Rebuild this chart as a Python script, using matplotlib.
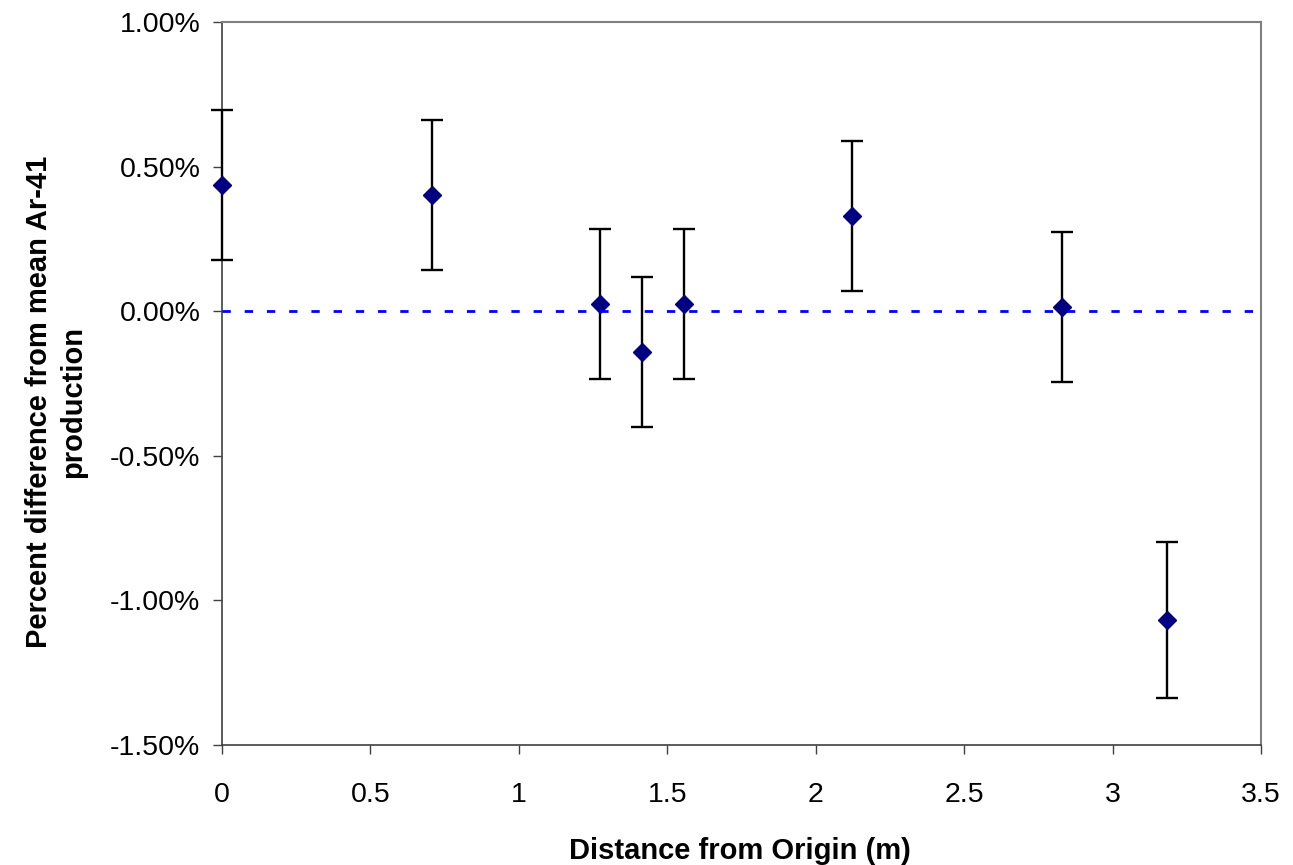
import matplotlib
matplotlib.use("Agg")
import matplotlib.pyplot as plt
from matplotlib.ticker import FuncFormatter, MultipleLocator

distance_m = [0.0, 0.707, 1.273, 1.414, 1.556, 2.121, 2.828, 3.182]
pct_diff = [0.436, 0.402, 0.025, -0.141, 0.025, 0.329, 0.015, -1.068]
pct_err = [0.26, 0.26, 0.26, 0.26, 0.26, 0.26, 0.26, 0.27]

plt.rcParams['font.family'] = ['Liberation Sans', 'DejaVu Sans']

W, H = 1293, 865
fig = plt.figure(figsize=(W / 100, H / 100), dpi=100)
ax = fig.add_axes([222 / W, 1 - 745 / H, (1261 - 222) / W, (745 - 22) / H])

ax.errorbar(distance_m, pct_diff, yerr=pct_err, fmt='D', color='#000080',
            markersize=9.5, ecolor='black', elinewidth=1.7, capsize=8,
            capthick=1.7, zorder=3, clip_on=False)
ax.axhline(0, color='#0000FF', lw=2, dashes=(3, 5), zorder=4)

ax.set_xlim(0, 3.5)
ax.set_ylim(-1.5, 1.0)
ax.xaxis.set_major_locator(MultipleLocator(0.5))
ax.yaxis.set_major_locator(MultipleLocator(0.5))
ax.xaxis.set_major_formatter(FuncFormatter(lambda v, p: f"{v:g}"))
ax.yaxis.set_major_formatter(FuncFormatter(lambda v, p: f"{v:.2f}%"))

for s in ['top', 'right']:
    ax.spines[s].set_color('#808080')
    ax.spines[s].set_linewidth(1.5)
for s in ['left', 'bottom']:
    ax.spines[s].set_color('#404040')
    ax.spines[s].set_linewidth(1.2)

ax.tick_params(direction='out', length=6.5, width=1, color='#404040',
               labelsize=20.5)
ax.tick_params(axis='x', pad=20)
ax.tick_params(axis='y', pad=9)

fig.text(740 / W, 1 - 851 / H, 'Distance from Origin (m)', fontsize=21,
         fontweight='bold', ha='center', va='center')
fig.text(56 / W, 1 - 402 / H, 'Percent difference from mean Ar-41\nproduction',
         fontsize=21, fontweight='bold', ha='center', va='center',
         rotation=90, multialignment='center', linespacing=1.3)

fig.savefig('out.png', dpi=100)
